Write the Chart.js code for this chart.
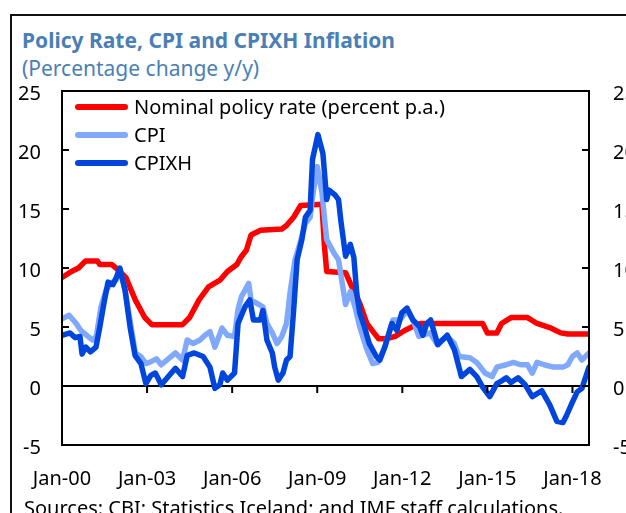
<!DOCTYPE html>
<html lang="en">
<head>
    <meta charset="UTF-8">
    <title>Policy Rate, CPI and CPIXH Inflation</title>
    <script src="https://cdn.jsdelivr.net/npm/chart.js"></script>
    <style>
        body {
            margin: 0;
            width: 626px;
            height: 513px;
            overflow: hidden;
            position: relative;
            background: #fff;
            font-family: 'Noto Sans', sans-serif;
        }
        #frame {
            position: absolute;
            left: 10px;
            top: 14px;
            width: 800px;
            height: 800px;
            border: 2px solid #111;
        }
        .head {
            position: absolute;
            left: 22px;
            color: #4a7fb6;
            font-size: 21px;
            line-height: 21px;
            white-space: nowrap;
        }
        #title { top: 30px; font-weight: bold; }
        #subtitle { top: 58px; }
        #chartBox {
            position: absolute;
            left: 0;
            top: 0;
            width: 660px;
            height: 513px;
        }
        #legend {
            position: absolute;
            left: 73px;
            top: 97px;
        }
        .item {
            position: relative;
            height: 28px;
            font-size: 20px;
            line-height: 20px;
            white-space: nowrap;
        }
        .swatch {
            position: absolute;
            left: 2px;
            top: 7px;
            width: 53px;
            height: 6px;
            border-radius: 3px;
        }
        .item span {
            position: absolute;
            left: 61px;
            top: 0;
            color: #000;
        }
        #source {
            position: absolute;
            left: 24px;
            top: 498px;
            font-size: 20px;
            line-height: 20px;
            white-space: nowrap;
            color: #000;
        }
    </style>
</head>
<body>
    <div id="frame"></div>
    <div id="title" class="head">Policy Rate, CPI and CPIXH Inflation</div>
    <div id="subtitle" class="head">(Percentage change y/y)</div>
    <div id="chartBox"><canvas id="chart" width="660" height="513"></canvas></div>
    <div id="legend"></div>
    <div id="source">Sources: CBI; Statistics Iceland; and IMF staff calculations.</div>

    <script>
        // months counted from Jan-2000 (0) to Aug-2018 (223)
        const xTickMonths = [0, 36, 72, 108, 144, 180, 216];
        const xTickLabels = ['Jan-00', 'Jan-03', 'Jan-06', 'Jan-09', 'Jan-12', 'Jan-15', 'Jan-18'];
        const yTicks = [-5, 0, 5, 10, 15, 20, 25];

        const seriesNames = ['Nominal policy rate (percent p.a.)', 'CPI', 'CPIXH'];
        const seriesColors = ['#ff0000', '#80a8fb', '#0046dc'];

        const rateMonths = [0, 4, 7, 10, 15, 16, 21, 24, 27, 31, 35, 38, 51, 54, 58, 62, 67, 70, 74, 76,
            78, 80, 84, 93, 95, 98, 101, 110, 111, 112, 120, 122, 126, 129, 132, 134, 137, 141, 145, 150,
            152, 178, 180, 184, 186, 190, 197, 201, 207, 211, 214, 223];
        const rateValues = [9.2, 9.7, 10.0, 10.6, 10.6, 10.3, 10.3, 9.8, 9.2, 7.3, 5.8, 5.2, 5.2, 5.8, 7.3, 8.4, 9.0, 9.7, 10.3, 11.0,
            11.5, 12.8, 13.2, 13.3, 13.6, 14.3, 15.3, 15.4, 12.0, 9.7, 9.6, 8.7, 7.0, 5.3, 4.5, 4.0, 4.0, 4.2, 4.7, 5.2,
            5.3, 5.3, 4.5, 4.5, 5.3, 5.8, 5.8, 5.3, 4.9, 4.5, 4.4, 4.4];

        const cpiMonths = [0, 3, 6, 8, 11, 13, 14.5, 16.5, 18.6, 20.7, 23, 24.5, 26.7, 29, 31, 33.4, 35.5, 37, 40, 42,
            45, 48, 51, 53, 55.5, 58.4, 60.5, 62.6, 64.7, 67.7, 70, 73, 74.5, 76, 79, 80, 82.5, 85, 86.7, 89,
            91, 93, 95, 96.5, 98.6, 100.7, 103, 105, 106, 108, 110, 112, 115, 117, 120, 122, 124, 126, 129, 131.5,
            133.7, 136.6, 140, 143, 146, 148.5, 151, 155.7, 158.6, 163, 166, 168, 172.6, 175.5, 179, 182, 184, 188, 191, 194,
            197, 199, 201, 204, 208, 212, 214, 216, 218, 220, 223];
        const cpiValues = [5.7, 6.0, 5.3, 4.7, 4.2, 3.9, 4.2, 6.7, 8.1, 8.7, 9.0, 9.9, 8.1, 5.3, 2.8, 2.5, 1.9, 2.0, 2.3, 1.8,
            2.3, 2.8, 2.2, 3.9, 3.6, 3.9, 4.3, 4.6, 3.3, 4.9, 4.3, 4.2, 6.5, 7.6, 8.7, 7.3, 7.0, 6.7, 5.3, 4.5,
            3.6, 4.2, 5.3, 7.9, 10.7, 12.1, 13.8, 14.3, 16.0, 18.6, 16.4, 12.4, 11.3, 10.7, 6.9, 8.0, 6.7, 5.0, 3.1, 1.9,
            2.0, 3.3, 5.6, 5.6, 6.4, 5.6, 4.2, 4.5, 3.6, 4.2, 3.6, 2.5, 2.4, 2.0, 1.1, 0.8, 1.6, 1.8, 2.0, 1.8,
            1.8, 1.1, 2.0, 1.8, 1.6, 1.6, 1.8, 2.5, 2.8, 2.2, 2.8];

        const cpixhMonths = [0, 3.4, 5.5, 7.6, 8.5, 10, 12, 14.4, 16, 18, 19.5, 21.6, 23, 24.5, 26.7, 28.8, 30.9, 33.4, 35.5, 37.6,
            39.5, 42, 45, 48, 51, 53, 56, 59.7, 62.6, 64.7, 66.8, 68, 70, 73, 74.5, 77.4, 79.5, 81, 84, 85,
            86.7, 89, 90, 91.5, 93.5, 95, 96.5, 98, 99.5, 101.5, 103, 105, 106, 108.3, 110.4, 112, 113, 115.5, 117, 118,
            120, 122, 123.5, 124.7, 126, 128, 130, 133, 134.5, 136.6, 139.6, 141.7, 143.8, 146, 148.5, 150, 151.4, 152.7, 154.4, 156,
            159, 163, 166, 169, 172.6, 175.5, 178, 181, 184, 186.6, 188, 190, 193, 196, 199, 203, 206.4, 209.4, 212, 213.5,
            215.7, 218, 220, 223];
        const cpixhValues = [4.3, 4.5, 4.1, 4.2, 2.7, 3.3, 2.9, 3.3, 5.0, 7.3, 8.8, 8.6, 9.2, 10.0, 8.1, 5.0, 2.6, 1.9, 0.2, 0.9,
            1.1, 0.1, 0.8, 1.5, 0.8, 2.6, 2.8, 2.5, 1.6, -0.2, 0.1, 1.1, 0.5, 1.1, 5.3, 6.7, 7.3, 5.6, 5.6, 6.4,
            3.9, 2.8, 1.6, 0.5, 1.1, 2.2, 2.5, 6.4, 10.7, 12.4, 14.3, 14.9, 19.2, 21.3, 19.7, 15.8, 16.6, 16.2, 15.8, 14.0,
            11.0, 12.0, 10.9, 7.9, 6.2, 5.0, 3.6, 2.5, 2.2, 3.3, 5.3, 4.7, 6.2, 6.6, 5.6, 5.3, 5.0, 4.3, 5.3, 5.6,
            3.5, 4.3, 3.1, 0.8, 1.4, 0.8, -0.1, -0.9, 0.2, 0.5, 0.7, 0.3, 0.7, 0.1, -0.9, -0.4, -1.6, -3.0, -3.1, -2.5,
            -1.5, -0.5, -0.2, 1.6];

        function toPoints(months, values) {
            return months.map((m, i) => ({ x: m, y: values[i] }));
        }

        // legend in the top left corner of the plot
        const legend = document.getElementById('legend');
        seriesNames.forEach((name, i) => {
            const row = document.createElement('div');
            row.className = 'item';
            row.innerHTML = '<div class="swatch" style="background:' + seriesColors[i] + '"></div><span>' + name + '</span>';
            legend.appendChild(row);
        });

        // plot frame, inward ticks on both y axes, x ticks hanging from the zero line
        const framePlugin = {
            id: 'frame',
            afterDraw(chart) {
                const ctx = chart.ctx;
                const a = chart.chartArea;
                const ys = chart.scales.y;
                const xs = chart.scales.x;
                ctx.save();
                ctx.strokeStyle = '#000';
                ctx.lineWidth = 2;
                ctx.strokeRect(a.left, a.top, a.right - a.left, a.bottom - a.top);
                ctx.beginPath();
                yTicks.forEach(v => {
                    const py = ys.getPixelForValue(v);
                    ctx.moveTo(a.left, py);
                    ctx.lineTo(a.left + 7, py);
                    ctx.moveTo(a.right, py);
                    ctx.lineTo(a.right - 7, py);
                });
                const y0 = ys.getPixelForValue(0);
                xTickMonths.forEach(m => {
                    const px = xs.getPixelForValue(m);
                    ctx.moveTo(px, y0);
                    ctx.lineTo(px, y0 + 7);
                });
                ctx.stroke();
                ctx.restore();
            }
        };

        const lineStyle = {
            pointRadius: 0,
            borderWidth: 5.5,
            tension: 0,
            borderJoinStyle: 'round',
            borderCapStyle: 'round'
        };

        const tickFont = { family: "'Noto Sans', sans-serif", size: 20 };

        new Chart(document.getElementById('chart'), {
            type: 'line',
            data: {
                datasets: [
                    Object.assign({ label: seriesNames[0], data: toPoints(rateMonths, rateValues), borderColor: seriesColors[0], order: 2 }, lineStyle),
                    Object.assign({ label: seriesNames[1], data: toPoints(cpiMonths, cpiValues), borderColor: seriesColors[1], order: 1 }, lineStyle),
                    Object.assign({ label: seriesNames[2], data: toPoints(cpixhMonths, cpixhValues), borderColor: seriesColors[2], order: 0 }, lineStyle)
                ]
            },
            options: {
                responsive: false,
                animation: false,
                layout: { padding: { top: 91, left: 0, right: 0, bottom: 0 } },
                plugins: {
                    legend: { display: false },
                    tooltip: { enabled: false }
                },
                scales: {
                    x: {
                        type: 'linear',
                        min: 0,
                        max: 223,
                        afterBuildTicks: axis => { axis.ticks = xTickMonths.map(v => ({ value: v })); },
                        afterFit: scale => { scale.height = 68; },
                        grid: { display: false, drawTicks: false },
                        border: { display: false },
                        ticks: {
                            color: '#000',
                            font: tickFont,
                            padding: 22,
                            maxRotation: 0,
                            autoSkip: false,
                            callback: v => xTickLabels[xTickMonths.indexOf(v)]
                        }
                    },
                    y: {
                        position: 'left',
                        min: -5,
                        max: 25,
                        afterBuildTicks: axis => { axis.ticks = yTicks.map(v => ({ value: v })); },
                        afterFit: scale => { scale.width = 62; },
                        grid: {
                            drawTicks: false,
                            lineWidth: 2,
                            color: c => c.tick && c.tick.value === 0 ? '#000' : 'rgba(0,0,0,0)'
                        },
                        border: { display: false },
                        ticks: { color: '#000', font: tickFont, padding: 21, labelOffset: 3 }
                    },
                    y2: {
                        position: 'right',
                        min: -5,
                        max: 25,
                        afterBuildTicks: axis => { axis.ticks = yTicks.map(v => ({ value: v })); },
                        afterFit: scale => { scale.width = 71; },
                        grid: { display: false, drawTicks: false },
                        border: { display: false },
                        ticks: { color: '#000', font: tickFont, padding: 24, labelOffset: 3 }
                    }
                }
            },
            plugins: [framePlugin]
        });
    </script>
</body>
</html>
